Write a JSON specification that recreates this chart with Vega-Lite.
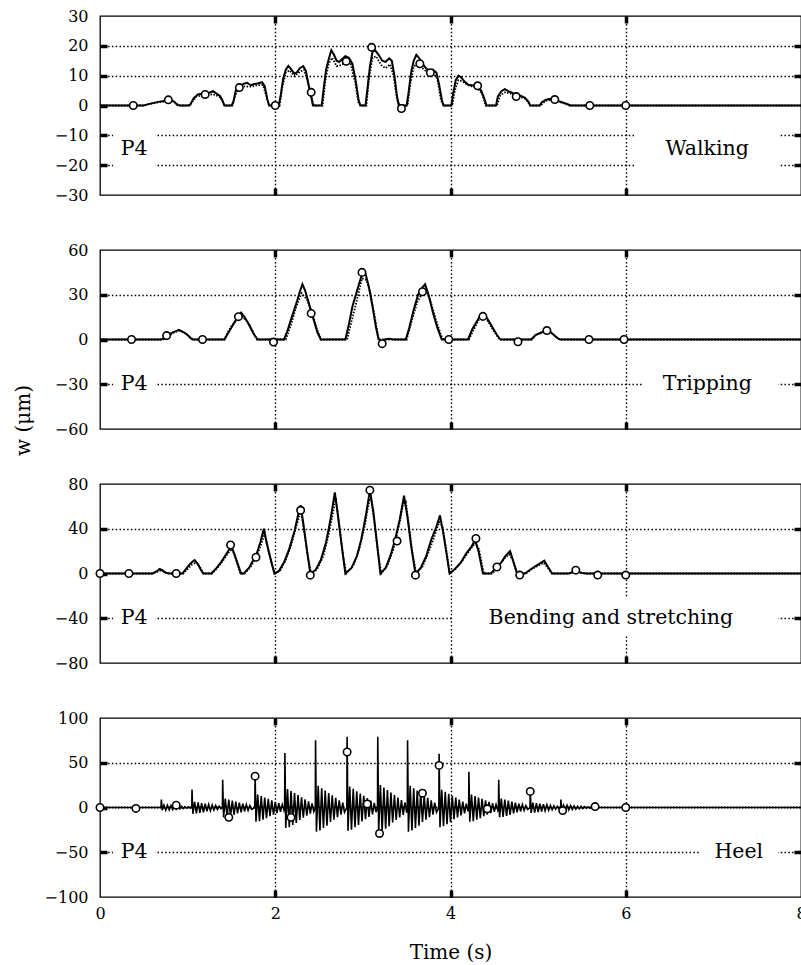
{
"$schema":"https://vega.github.io/schema/vega-lite/v6.json",
"padding":{"left":12,"top":7,"right":0,"bottom":0},
"autosize":{"type":"pad"},
"bounds":"flush",
"spacing":55,
"config":{
 "font":"DejaVu Serif",
 "view":{"stroke":"black","strokeWidth":1.3},
 "axis":{"domain":false,"labelFont":"DejaVu Serif","labelFontSize":16,"labelColor":"black","tickColor":"black","tickSize":-7,"tickWidth":3.5,"gridColor":"black","gridOpacity":1,"gridDash":[1.5,2.3],"gridWidth":1.4,"labelPadding":19,"titleFont":"DejaVu Serif","titleFontSize":19,"titleFontWeight":"normal","titleColor":"black","labelFlush":false}
},
"datasets":{
 "ann":[
  {"p":"walk","t":0.39,"w":-14.6,"label":"P4","x1":0.15,"x2":0.63,"y1":-25,"y2":-4},
  {"p":"walk","t":6.93,"w":-14.6,"label":"Walking","x1":6.1,"x2":7.76,"y1":-25,"y2":-4},
  {"p":"trip","t":0.39,"w":-29.5,"label":"P4","x1":0.15,"x2":0.63,"y1":-41,"y2":-17},
  {"p":"trip","t":6.93,"w":-29.5,"label":"Tripping","x1":6.19,"x2":7.74,"y1":-41,"y2":-17},
  {"p":"bend","t":0.39,"w":-40,"label":"P4","x1":0.15,"x2":0.63,"y1":-55,"y2":-24},
  {"p":"bend","t":5.83,"w":-40,"label":"Bending and stretching","x1":4.02,"x2":7.74,"y1":-55,"y2":-22},
  {"p":"heel","t":0.39,"w":-50,"label":"P4","x1":0.15,"x2":0.63,"y1":-64,"y2":-36},
  {"p":"heel","t":7.29,"w":-50,"label":"Heel","x1":6.85,"x2":7.74,"y1":-64,"y2":-36}
 ],
 "walk_m":[
  {"t":0,"w":0},{"t":0.5,"w":0},{"t":0.53,"w":0.3},{"t":0.6,"w":0.8},{"t":0.68,"w":1.3},{"t":0.75,"w":1.6},{"t":0.8,"w":2.0},{"t":0.85,"w":1.2},{"t":0.88,"w":0.2},{"t":0.92,"w":0},
  {"t":1.0,"w":0},{"t":1.03,"w":0.3},{"t":1.07,"w":2.5},{"t":1.12,"w":3.8},{"t":1.18,"w":3.9},{"t":1.24,"w":4.2},{"t":1.29,"w":4.8},{"t":1.33,"w":4.0},{"t":1.37,"w":3.2},{"t":1.4,"w":1.5},{"t":1.42,"w":0},
  {"t":1.5,"w":0},{"t":1.52,"w":1},{"t":1.55,"w":5},{"t":1.6,"w":6.5},{"t":1.64,"w":7.3},{"t":1.68,"w":7.6},{"t":1.72,"w":6.8},{"t":1.76,"w":7.2},{"t":1.8,"w":7.4},{"t":1.85,"w":7.8},{"t":1.88,"w":6.5},{"t":1.91,"w":2},{"t":1.93,"w":0},
  {"t":2.04,"w":0},{"t":2.06,"w":3},{"t":2.09,"w":9},{"t":2.12,"w":12},{"t":2.15,"w":13.3},{"t":2.18,"w":12.2},{"t":2.22,"w":10.6},{"t":2.25,"w":11.2},{"t":2.28,"w":12.5},{"t":2.32,"w":13.2},{"t":2.35,"w":11.5},{"t":2.38,"w":7},{"t":2.41,"w":3},{"t":2.43,"w":0},
  {"t":2.53,"w":0},{"t":2.55,"w":5},{"t":2.58,"w":12},{"t":2.61,"w":15.5},{"t":2.64,"w":18.5},{"t":2.67,"w":17},{"t":2.7,"w":15},{"t":2.73,"w":14.6},{"t":2.76,"w":15.5},{"t":2.8,"w":16.5},{"t":2.84,"w":16},{"t":2.88,"w":14},{"t":2.92,"w":8},{"t":2.95,"w":2},{"t":2.97,"w":0},
  {"t":3.03,"w":0},{"t":3.05,"w":5},{"t":3.08,"w":13},{"t":3.11,"w":18},{"t":3.14,"w":18.5},{"t":3.18,"w":17},{"t":3.22,"w":15},{"t":3.26,"w":14.6},{"t":3.3,"w":15.8},{"t":3.33,"w":15},{"t":3.36,"w":10},{"t":3.39,"w":3},{"t":3.41,"w":0},
  {"t":3.5,"w":0},{"t":3.52,"w":4},{"t":3.55,"w":11},{"t":3.58,"w":15},{"t":3.61,"w":17},{"t":3.64,"w":16},{"t":3.68,"w":14},{"t":3.72,"w":12.5},{"t":3.76,"w":11.5},{"t":3.8,"w":12},{"t":3.84,"w":11},{"t":3.87,"w":7},{"t":3.9,"w":2},{"t":3.92,"w":0},
  {"t":4.01,"w":0},{"t":4.03,"w":4},{"t":4.06,"w":8.5},{"t":4.09,"w":10},{"t":4.12,"w":9.5},{"t":4.16,"w":8},{"t":4.2,"w":7},{"t":4.24,"w":6.8},{"t":4.3,"w":6.5},{"t":4.35,"w":5},{"t":4.39,"w":2},{"t":4.41,"w":0},
  {"t":4.52,"w":0},{"t":4.54,"w":3},{"t":4.58,"w":4.8},{"t":4.62,"w":5.5},{"t":4.66,"w":4.8},{"t":4.7,"w":4.3},{"t":4.75,"w":3.5},{"t":4.8,"w":3.3},{"t":4.85,"w":2.6},{"t":4.89,"w":1.2},{"t":4.91,"w":0},
  {"t":5.02,"w":0},{"t":5.04,"w":1},{"t":5.08,"w":1.8},{"t":5.12,"w":2.2},{"t":5.17,"w":2.2},{"t":5.22,"w":1.6},{"t":5.28,"w":1.0},{"t":5.33,"w":0.5},{"t":5.37,"w":0},{"t":8,"w":0}
 ],
 "walk_p":[
  {"t":0,"w":0},{"t":0.5,"w":0},{"t":0.55,"w":0.4},{"t":0.65,"w":1.0},{"t":0.75,"w":1.4},{"t":0.82,"w":1.6},{"t":0.87,"w":0.8},{"t":0.9,"w":0},
  {"t":1.02,"w":0},{"t":1.06,"w":1.5},{"t":1.1,"w":3.0},{"t":1.18,"w":3.4},{"t":1.25,"w":3.8},{"t":1.32,"w":3.5},{"t":1.38,"w":2.6},{"t":1.42,"w":0},
  {"t":1.51,"w":0},{"t":1.54,"w":3},{"t":1.58,"w":5.6},{"t":1.65,"w":6.4},{"t":1.72,"w":6.3},{"t":1.8,"w":6.8},{"t":1.86,"w":6.8},{"t":1.9,"w":3},{"t":1.93,"w":0},
  {"t":2.05,"w":0},{"t":2.08,"w":6},{"t":2.12,"w":11},{"t":2.16,"w":11.8},{"t":2.22,"w":9.8},{"t":2.28,"w":11.3},{"t":2.33,"w":12},{"t":2.37,"w":8},{"t":2.41,"w":3.5},{"t":2.44,"w":0},
  {"t":2.54,"w":0},{"t":2.57,"w":8},{"t":2.61,"w":14},{"t":2.65,"w":16},{"t":2.7,"w":13.2},{"t":2.75,"w":13.5},{"t":2.81,"w":14.5},{"t":2.86,"w":14},{"t":2.91,"w":8},{"t":2.95,"w":1},{"t":2.98,"w":0},
  {"t":3.04,"w":0},{"t":3.07,"w":9},{"t":3.11,"w":16},{"t":3.15,"w":16.5},{"t":3.21,"w":13.5},{"t":3.26,"w":12.5},{"t":3.31,"w":13.8},{"t":3.35,"w":10},{"t":3.39,"w":2},{"t":3.42,"w":0},
  {"t":3.51,"w":0},{"t":3.54,"w":7},{"t":3.58,"w":13},{"t":3.63,"w":14.3},{"t":3.68,"w":12.5},{"t":3.74,"w":11},{"t":3.8,"w":11},{"t":3.85,"w":9},{"t":3.89,"w":2},{"t":3.92,"w":0},
  {"t":4.02,"w":0},{"t":4.05,"w":5},{"t":4.09,"w":8.5},{"t":4.14,"w":8},{"t":4.22,"w":6.5},{"t":4.3,"w":6.2},{"t":4.36,"w":4},{"t":4.4,"w":0},
  {"t":4.53,"w":0},{"t":4.57,"w":3.5},{"t":4.63,"w":4.5},{"t":4.7,"w":3.8},{"t":4.78,"w":3.0},{"t":4.86,"w":2.2},{"t":4.91,"w":0},
  {"t":5.03,"w":0},{"t":5.08,"w":1.5},{"t":5.15,"w":1.9},{"t":5.22,"w":1.4},{"t":5.3,"w":0.7},{"t":5.36,"w":0},{"t":8,"w":0}
 ],
 "walk_c":[
  {"t":0.38,"w":0},{"t":0.78,"w":1.9},{"t":1.2,"w":3.7},{"t":1.59,"w":6},{"t":2.0,"w":0},{"t":2.41,"w":4.4},{"t":2.81,"w":14.8},{"t":3.1,"w":19.5},{"t":3.44,"w":-1},{"t":3.65,"w":14},{"t":3.77,"w":11},{"t":4.31,"w":6.6},{"t":4.75,"w":3},{"t":5.19,"w":2},{"t":5.59,"w":0},{"t":6.0,"w":0}
 ],
 "trip_m":[
  {"t":0,"w":0},{"t":0.7,"w":0},{"t":0.74,"w":1.5},{"t":0.8,"w":4},{"t":0.86,"w":5.5},{"t":0.9,"w":6.5},{"t":0.95,"w":5},{"t":1.0,"w":3},{"t":1.04,"w":0.5},{"t":1.06,"w":0},
  {"t":1.42,"w":0},{"t":1.46,"w":4},{"t":1.52,"w":10},{"t":1.57,"w":15},{"t":1.61,"w":18},{"t":1.65,"w":15},{"t":1.7,"w":10},{"t":1.75,"w":4},{"t":1.8,"w":0},
  {"t":2.1,"w":0},{"t":2.14,"w":6},{"t":2.2,"w":17},{"t":2.25,"w":26},{"t":2.28,"w":32},{"t":2.31,"w":37},{"t":2.34,"w":33},{"t":2.38,"w":25},{"t":2.43,"w":15},{"t":2.48,"w":5},{"t":2.52,"w":0},
  {"t":2.8,"w":0},{"t":2.84,"w":10},{"t":2.88,"w":22},{"t":2.92,"w":30},{"t":2.96,"w":38},{"t":3.0,"w":45.5},{"t":3.03,"w":44},{"t":3.07,"w":35},{"t":3.11,"w":22},{"t":3.15,"w":8},{"t":3.18,"w":0},{"t":3.22,"w":-1.5},{"t":3.25,"w":0},{"t":3.3,"w":0.5},{"t":3.35,"w":0},
  {"t":3.49,"w":0},{"t":3.53,"w":8},{"t":3.58,"w":20},{"t":3.63,"w":30},{"t":3.68,"w":35},{"t":3.71,"w":37},{"t":3.75,"w":30},{"t":3.8,"w":18},{"t":3.85,"w":8},{"t":3.9,"w":0},
  {"t":4.2,"w":0},{"t":4.25,"w":7},{"t":4.3,"w":12},{"t":4.34,"w":16},{"t":4.37,"w":17.5},{"t":4.42,"w":14},{"t":4.48,"w":8},{"t":4.53,"w":3},{"t":4.57,"w":0},
  {"t":4.92,"w":0},{"t":4.97,"w":3},{"t":5.03,"w":4.5},{"t":5.08,"w":5.8},{"t":5.13,"w":5.5},{"t":5.18,"w":3},{"t":5.23,"w":0.5},{"t":5.25,"w":0},{"t":8,"w":0}
 ],
 "trip_p":[
  {"t":0,"w":0},{"t":0.72,"w":0},{"t":0.78,"w":2},{"t":0.84,"w":4.5},{"t":0.9,"w":6},{"t":0.96,"w":5},{"t":1.02,"w":2},{"t":1.06,"w":0},
  {"t":1.42,"w":0},{"t":1.45,"w":4},{"t":1.5,"w":9},{"t":1.56,"w":13},{"t":1.62,"w":15.5},{"t":1.68,"w":12},{"t":1.74,"w":6},{"t":1.79,"w":0},
  {"t":2.12,"w":0},{"t":2.18,"w":10},{"t":2.24,"w":22},{"t":2.3,"w":31},{"t":2.36,"w":27},{"t":2.42,"w":18},{"t":2.47,"w":8},{"t":2.52,"w":0},
  {"t":2.82,"w":0},{"t":2.87,"w":12},{"t":2.93,"w":26},{"t":2.99,"w":41},{"t":3.04,"w":40},{"t":3.09,"w":30},{"t":3.14,"w":14},{"t":3.18,"w":0},
  {"t":3.5,"w":0},{"t":3.56,"w":13},{"t":3.62,"w":25},{"t":3.68,"w":31},{"t":3.72,"w":33},{"t":3.77,"w":26},{"t":3.83,"w":14},{"t":3.89,"w":3},{"t":3.92,"w":0},
  {"t":4.21,"w":0},{"t":4.26,"w":6},{"t":4.32,"w":13},{"t":4.37,"w":15.5},{"t":4.43,"w":12},{"t":4.49,"w":6},{"t":4.56,"w":0},
  {"t":4.93,"w":0},{"t":4.98,"w":3.5},{"t":5.05,"w":4.5},{"t":5.1,"w":5.5},{"t":5.16,"w":4},{"t":5.22,"w":1},{"t":5.25,"w":0},{"t":8,"w":0}
 ],
 "trip_c":[
  {"t":0.36,"w":0},{"t":0.76,"w":2.6},{"t":1.17,"w":0},{"t":1.58,"w":15.3},{"t":1.98,"w":-1.7},{"t":2.41,"w":17.5},{"t":2.99,"w":45},{"t":3.22,"w":-2.8},{"t":3.68,"w":32},{"t":3.98,"w":0},{"t":4.37,"w":15.5},{"t":4.77,"w":-1.5},{"t":5.1,"w":6},{"t":5.58,"w":0},{"t":5.98,"w":0}
 ],
 "bend_m":[
  {"t":0,"w":0},{"t":0.6,"w":0},{"t":0.65,"w":2},{"t":0.68,"w":4},{"t":0.71,"w":3},{"t":0.74,"w":1},{"t":0.78,"w":0},
  {"t":0.94,"w":0},{"t":0.98,"w":4},{"t":1.02,"w":8},{"t":1.06,"w":11},{"t":1.08,"w":12},{"t":1.12,"w":8},{"t":1.16,"w":2},{"t":1.18,"w":0},
  {"t":1.27,"w":0},{"t":1.32,"w":4},{"t":1.38,"w":10},{"t":1.43,"w":16},{"t":1.47,"w":21},{"t":1.5,"w":24},{"t":1.53,"w":18},{"t":1.57,"w":9},{"t":1.61,"w":0},
  {"t":1.64,"w":0},{"t":1.7,"w":5},{"t":1.75,"w":12},{"t":1.79,"w":18},{"t":1.83,"w":28},{"t":1.87,"w":40},{"t":1.9,"w":28},{"t":1.94,"w":15},{"t":1.99,"w":0},
  {"t":2.04,"w":2},{"t":2.1,"w":10},{"t":2.16,"w":22},{"t":2.22,"w":38},{"t":2.26,"w":52},{"t":2.29,"w":61},{"t":2.32,"w":45},{"t":2.36,"w":22},{"t":2.4,"w":0},
  {"t":2.46,"w":3},{"t":2.52,"w":12},{"t":2.58,"w":28},{"t":2.63,"w":48},{"t":2.68,"w":72.5},{"t":2.71,"w":55},{"t":2.75,"w":30},{"t":2.8,"w":0},
  {"t":2.87,"w":5},{"t":2.93,"w":15},{"t":2.98,"w":30},{"t":3.03,"w":50},{"t":3.08,"w":74},{"t":3.12,"w":55},{"t":3.16,"w":28},{"t":3.2,"w":0},
  {"t":3.26,"w":5},{"t":3.31,"w":15},{"t":3.36,"w":28},{"t":3.42,"w":48},{"t":3.47,"w":69.5},{"t":3.51,"w":50},{"t":3.55,"w":25},{"t":3.6,"w":0},
  {"t":3.66,"w":5},{"t":3.72,"w":15},{"t":3.78,"w":30},{"t":3.84,"w":42},{"t":3.88,"w":52},{"t":3.92,"w":35},{"t":3.96,"w":15},{"t":3.99,"w":0},
  {"t":4.05,"w":4},{"t":4.12,"w":10},{"t":4.18,"w":18},{"t":4.24,"w":24},{"t":4.28,"w":30},{"t":4.32,"w":20},{"t":4.35,"w":8},{"t":4.37,"w":0},
  {"t":4.46,"w":0},{"t":4.52,"w":5},{"t":4.58,"w":10},{"t":4.63,"w":16},{"t":4.68,"w":20},{"t":4.72,"w":10},{"t":4.76,"w":0},
  {"t":4.85,"w":0},{"t":4.92,"w":4},{"t":4.98,"w":7},{"t":5.04,"w":10},{"t":5.07,"w":11.5},{"t":5.12,"w":5},{"t":5.16,"w":0},
  {"t":5.35,"w":0},{"t":5.43,"w":2},{"t":5.5,"w":0.5},{"t":5.55,"w":0},{"t":8,"w":0}
 ],
 "bend_p":[
  {"t":0,"w":0},{"t":0.6,"w":0},{"t":0.65,"w":1.5},{"t":0.7,"w":3},{"t":0.75,"w":1},{"t":0.8,"w":0},
  {"t":0.95,"w":0},{"t":1.0,"w":4},{"t":1.05,"w":8},{"t":1.1,"w":10},{"t":1.14,"w":6},{"t":1.18,"w":0},
  {"t":1.28,"w":0},{"t":1.34,"w":5},{"t":1.4,"w":11},{"t":1.46,"w":18},{"t":1.51,"w":22},{"t":1.55,"w":13},{"t":1.6,"w":0},
  {"t":1.65,"w":0},{"t":1.72,"w":6},{"t":1.78,"w":14},{"t":1.84,"w":26},{"t":1.88,"w":36},{"t":1.92,"w":22},{"t":1.97,"w":6},{"t":2.0,"w":0},
  {"t":2.06,"w":3},{"t":2.12,"w":12},{"t":2.18,"w":25},{"t":2.24,"w":42},{"t":2.29,"w":56},{"t":2.33,"w":38},{"t":2.37,"w":16},{"t":2.41,"w":0},
  {"t":2.48,"w":4},{"t":2.55,"w":16},{"t":2.61,"w":35},{"t":2.66,"w":55},{"t":2.69,"w":68},{"t":2.73,"w":44},{"t":2.77,"w":18},{"t":2.81,"w":0},
  {"t":2.89,"w":7},{"t":2.96,"w":22},{"t":3.02,"w":42},{"t":3.06,"w":60},{"t":3.09,"w":70},{"t":3.13,"w":46},{"t":3.17,"w":20},{"t":3.21,"w":0},
  {"t":3.28,"w":7},{"t":3.35,"w":22},{"t":3.41,"w":42},{"t":3.46,"w":62},{"t":3.49,"w":64},{"t":3.53,"w":40},{"t":3.57,"w":16},{"t":3.61,"w":0},
  {"t":3.68,"w":6},{"t":3.75,"w":19},{"t":3.82,"w":34},{"t":3.87,"w":46},{"t":3.91,"w":42},{"t":3.95,"w":22},{"t":3.99,"w":0},
  {"t":4.07,"w":5},{"t":4.15,"w":13},{"t":4.22,"w":21},{"t":4.28,"w":27},{"t":4.32,"w":23},{"t":4.35,"w":12},{"t":4.38,"w":0},
  {"t":4.48,"w":0},{"t":4.55,"w":7},{"t":4.62,"w":14},{"t":4.67,"w":17},{"t":4.71,"w":12},{"t":4.76,"w":0},
  {"t":4.86,"w":0},{"t":4.93,"w":4},{"t":5.0,"w":7},{"t":5.06,"w":9.5},{"t":5.1,"w":6},{"t":5.16,"w":0},
  {"t":5.35,"w":0},{"t":5.43,"w":2},{"t":5.5,"w":0.5},{"t":5.55,"w":0},{"t":8,"w":0}
 ],
 "bend_c":[
  {"t":0,"w":0},{"t":0.33,"w":0},{"t":0.87,"w":0},{"t":1.49,"w":25.5},{"t":1.78,"w":14.5},{"t":2.29,"w":56.5},{"t":2.4,"w":-1.5},{"t":3.08,"w":74.5},{"t":3.39,"w":29},{"t":3.6,"w":-1.5},{"t":4.29,"w":31.3},{"t":4.53,"w":5.8},{"t":4.79,"w":-1.4},{"t":5.43,"w":3},{"t":5.68,"w":-1.4},{"t":6.0,"w":-1.4}
 ],
 "heel_m":[
  {"t":0,"w":0},{"t":0.697,"w":0},
  {"t":0.7,"w":9},{"t":0.71,"w":-3},{"t":0.73,"w":2.7},{"t":0.75,"w":-2.9},{"t":0.77,"w":2.4},{"t":0.79,"w":-2.6},{"t":0.81,"w":2.1},{"t":0.83,"w":-2.3},{"t":0.85,"w":1.8},{"t":0.87,"w":-1.8},{"t":0.89,"w":1.5},{"t":0.91,"w":-1.5},{"t":0.93,"w":1.2},{"t":0.95,"w":-1.2},{"t":0.97,"w":0.9},{"t":0.99,"w":-0.9},{"t":1.01,"w":0.6},{"t":1.03,"w":-0.6},{"t":1.047,"w":0},
  {"t":1.05,"w":20},{"t":1.06,"w":-7},{"t":1.08,"w":6.3},{"t":1.1,"w":-6.7},{"t":1.12,"w":5.6},{"t":1.14,"w":-6},{"t":1.16,"w":4.9},{"t":1.18,"w":-5.3},{"t":1.2,"w":4.2},{"t":1.22,"w":-4.2},{"t":1.24,"w":3.5},{"t":1.26,"w":-3.5},{"t":1.28,"w":2.8},{"t":1.3,"w":-2.8},{"t":1.32,"w":2.1},{"t":1.34,"w":-2.1},{"t":1.36,"w":1.4},{"t":1.38,"w":-1.4},{"t":1.397,"w":0},
  {"t":1.4,"w":31},{"t":1.41,"w":-11},{"t":1.43,"w":9.9},{"t":1.45,"w":-10.5},{"t":1.47,"w":8.8},{"t":1.49,"w":-9.4},{"t":1.51,"w":7.7},{"t":1.53,"w":-8.3},{"t":1.55,"w":6.6},{"t":1.57,"w":-6.6},{"t":1.59,"w":5.5},{"t":1.61,"w":-5.5},{"t":1.63,"w":4.4},{"t":1.65,"w":-4.4},{"t":1.67,"w":3.3},{"t":1.69,"w":-3.3},{"t":1.71,"w":2.2},{"t":1.73,"w":-2.2},{"t":1.767,"w":0},
  {"t":1.77,"w":38},{"t":1.78,"w":-16},{"t":1.8,"w":14.4},{"t":1.82,"w":-15.2},{"t":1.84,"w":12.8},{"t":1.86,"w":-13.6},{"t":1.88,"w":11.2},{"t":1.9,"w":-12},{"t":1.92,"w":9.6},{"t":1.94,"w":-9.6},{"t":1.96,"w":8},{"t":1.98,"w":-8},{"t":2.0,"w":6.4},{"t":2.02,"w":-6.4},{"t":2.04,"w":4.8},{"t":2.06,"w":-4.8},{"t":2.08,"w":3.2},{"t":2.1,"w":-3.2},{"t":2.107,"w":0},
  {"t":2.11,"w":61},{"t":2.12,"w":-23},{"t":2.14,"w":20.7},{"t":2.16,"w":-21.9},{"t":2.18,"w":18.4},{"t":2.2,"w":-19.6},{"t":2.22,"w":16.1},{"t":2.24,"w":-17.3},{"t":2.26,"w":13.8},{"t":2.28,"w":-13.8},{"t":2.3,"w":11.5},{"t":2.32,"w":-11.5},{"t":2.34,"w":9.2},{"t":2.36,"w":-9.2},{"t":2.38,"w":6.9},{"t":2.4,"w":-6.9},{"t":2.42,"w":4.6},{"t":2.44,"w":-4.6},{"t":2.457,"w":0},
  {"t":2.46,"w":75},{"t":2.47,"w":-27},{"t":2.49,"w":24.3},{"t":2.51,"w":-25.7},{"t":2.53,"w":21.6},{"t":2.55,"w":-23},{"t":2.57,"w":18.9},{"t":2.59,"w":-20.3},{"t":2.61,"w":16.2},{"t":2.63,"w":-16.2},{"t":2.65,"w":13.5},{"t":2.67,"w":-13.5},{"t":2.69,"w":10.8},{"t":2.71,"w":-10.8},{"t":2.73,"w":8.1},{"t":2.75,"w":-8.1},{"t":2.77,"w":5.4},{"t":2.79,"w":-5.4},{"t":2.817,"w":0},
  {"t":2.82,"w":79},{"t":2.83,"w":-26},{"t":2.85,"w":23.4},{"t":2.87,"w":-24.7},{"t":2.89,"w":20.8},{"t":2.91,"w":-22.1},{"t":2.93,"w":18.2},{"t":2.95,"w":-19.5},{"t":2.97,"w":15.6},{"t":2.99,"w":-15.6},{"t":3.01,"w":13},{"t":3.03,"w":-13},{"t":3.05,"w":10.4},{"t":3.07,"w":-10.4},{"t":3.09,"w":7.8},{"t":3.11,"w":-7.8},{"t":3.13,"w":5.2},{"t":3.15,"w":-5.2},{"t":3.167,"w":0},
  {"t":3.17,"w":79},{"t":3.18,"w":-28},{"t":3.2,"w":25.2},{"t":3.22,"w":-26.6},{"t":3.24,"w":22.4},{"t":3.26,"w":-23.8},{"t":3.28,"w":19.6},{"t":3.3,"w":-21},{"t":3.32,"w":16.8},{"t":3.34,"w":-16.8},{"t":3.36,"w":14},{"t":3.38,"w":-14},{"t":3.4,"w":11.2},{"t":3.42,"w":-11.2},{"t":3.44,"w":8.4},{"t":3.46,"w":-8.4},{"t":3.48,"w":5.6},{"t":3.5,"w":-5.6},{"t":3.507,"w":0},
  {"t":3.51,"w":75},{"t":3.52,"w":-27},{"t":3.54,"w":24.3},{"t":3.56,"w":-25.7},{"t":3.58,"w":21.6},{"t":3.6,"w":-23},{"t":3.62,"w":18.9},{"t":3.64,"w":-20.3},{"t":3.66,"w":16.2},{"t":3.68,"w":-16.2},{"t":3.7,"w":13.5},{"t":3.72,"w":-13.5},{"t":3.74,"w":10.8},{"t":3.76,"w":-10.8},{"t":3.78,"w":8.1},{"t":3.8,"w":-8.1},{"t":3.82,"w":5.4},{"t":3.84,"w":-5.4},{"t":3.867,"w":0},
  {"t":3.87,"w":60},{"t":3.88,"w":-22},{"t":3.9,"w":19.8},{"t":3.92,"w":-20.9},{"t":3.94,"w":17.6},{"t":3.96,"w":-18.7},{"t":3.98,"w":15.4},{"t":4.0,"w":-16.5},{"t":4.02,"w":13.2},{"t":4.04,"w":-13.2},{"t":4.06,"w":11},{"t":4.08,"w":-11},{"t":4.1,"w":8.8},{"t":4.12,"w":-8.8},{"t":4.14,"w":6.6},{"t":4.16,"w":-6.6},{"t":4.18,"w":4.4},{"t":4.2,"w":-4.4},{"t":4.207,"w":0},
  {"t":4.21,"w":40},{"t":4.22,"w":-16},{"t":4.24,"w":14.4},{"t":4.26,"w":-15.2},{"t":4.28,"w":12.8},{"t":4.3,"w":-13.6},{"t":4.32,"w":11.2},{"t":4.34,"w":-12},{"t":4.36,"w":9.6},{"t":4.38,"w":-9.6},{"t":4.4,"w":8},{"t":4.42,"w":-8},{"t":4.44,"w":6.4},{"t":4.46,"w":-6.4},{"t":4.48,"w":4.8},{"t":4.5,"w":-4.8},{"t":4.52,"w":3.2},{"t":4.54,"w":-3.2},{"t":4.547,"w":0},
  {"t":4.55,"w":31},{"t":4.56,"w":-11},{"t":4.58,"w":9.9},{"t":4.6,"w":-10.5},{"t":4.62,"w":8.8},{"t":4.64,"w":-9.4},{"t":4.66,"w":7.7},{"t":4.68,"w":-8.3},{"t":4.7,"w":6.6},{"t":4.72,"w":-6.6},{"t":4.74,"w":5.5},{"t":4.76,"w":-5.5},{"t":4.78,"w":4.4},{"t":4.8,"w":-4.4},{"t":4.82,"w":3.3},{"t":4.84,"w":-3.3},{"t":4.86,"w":2.2},{"t":4.88,"w":-2.2},{"t":4.907,"w":0},
  {"t":4.91,"w":20},{"t":4.92,"w":-6},{"t":4.94,"w":5.4},{"t":4.96,"w":-5.7},{"t":4.98,"w":4.8},{"t":5.0,"w":-5.1},{"t":5.02,"w":4.2},{"t":5.04,"w":-4.5},{"t":5.06,"w":3.6},{"t":5.08,"w":-3.6},{"t":5.1,"w":3},{"t":5.12,"w":-3},{"t":5.14,"w":2.4},{"t":5.16,"w":-2.4},{"t":5.18,"w":1.8},{"t":5.2,"w":-1.8},{"t":5.22,"w":1.2},{"t":5.24,"w":-1.2},{"t":5.257,"w":0},
  {"t":5.26,"w":9},{"t":5.27,"w":-3},{"t":5.29,"w":2.7},{"t":5.31,"w":-2.9},{"t":5.33,"w":2.4},{"t":5.35,"w":-2.6},{"t":5.37,"w":2.1},{"t":5.39,"w":-2.3},{"t":5.41,"w":1.8},{"t":5.43,"w":-1.8},{"t":5.45,"w":1.5},{"t":5.47,"w":-1.5},{"t":5.49,"w":1.2},{"t":5.51,"w":-1.2},{"t":5.53,"w":0.9},{"t":5.55,"w":-0.9},{"t":5.57,"w":0.6},{"t":5.59,"w":-0.6},{"t":5.62,"w":0},{"t":8,"w":0}
 ],
 "heel_p":[{"t":0,"w":0},{"t":8,"w":0}],
 "heel_c":[
  {"t":0,"w":0},{"t":0.41,"w":-1},{"t":0.87,"w":2.6},{"t":1.47,"w":-11},{"t":1.77,"w":35},{"t":2.18,"w":-11},{"t":2.82,"w":62},{"t":3.05,"w":4},{"t":3.19,"w":-29},{"t":3.68,"w":16},{"t":3.87,"w":47},{"t":4.42,"w":-1.5},{"t":4.91,"w":18},{"t":5.28,"w":-3.4},{"t":5.65,"w":1},{"t":6.0,"w":0}
 ]
},
"vconcat":[
 {"width":701,"height":179,
  "encoding":{"x":{"field":"t","type":"quantitative","scale":{"domain":[0,8],"nice":false,"zero":false},"axis":null},"y":{"field":"w","type":"quantitative","scale":{"domain":[-30,30],"nice":false,"zero":false},"axis":null}},
  "layer":[
   {"data":{"name":"ann"},"transform":[{"filter":"datum.p=='walk'"}],"mark":{"type":"rect","fill":"white"},
    "encoding":{"x":{"field":"x1","type":"quantitative","scale":{"domain":[0,8],"nice":false,"zero":false},"axis":{"orient":"bottom","values":[0,2,4,6,8],"labels":false,"title":null,"grid":true,"tickOpacity":{"condition":{"test":"datum.value==0||datum.value==8","value":0},"value":1},"gridOpacity":{"condition":{"test":"datum.value==0||datum.value==8","value":0},"value":1}}},"x2":{"field":"x2"},
     "y":{"field":"y1","type":"quantitative","scale":{"domain":[-30,30],"nice":false,"zero":false},"axis":{"orient":"left","values":[-30,-20,-10,0,10,20,30],"title":null,"grid":true,"tickOpacity":{"condition":{"test":"abs(datum.value)==30","value":0},"value":1},"gridOpacity":{"condition":{"test":"datum.value==0||abs(datum.value)==30","value":0},"value":1}}},"y2":{"field":"y2"}}},
   {"data":{"name":"walk_p"},"mark":{"type":"line","color":"black","strokeWidth":1.8,"strokeDash":[1.5,1.5]}},
   {"data":{"name":"walk_m"},"mark":{"type":"line","color":"black","strokeWidth":2}},
   {"data":{"name":"walk_c"},"mark":{"type":"point","shape":"circle","filled":true,"fill":"white","stroke":"black","strokeWidth":1.6,"size":55,"opacity":1},
    "encoding":{"x":{"field":"t","type":"quantitative","scale":{"domain":[0,8],"nice":false,"zero":false},"axis":{"orient":"top","values":[2,4,6],"labels":false,"title":null,"grid":false}},
     "y":{"field":"w","type":"quantitative","scale":{"domain":[-30,30],"nice":false,"zero":false},"axis":{"orient":"right","values":[-20,-10,10,20],"labels":false,"title":null,"grid":false}}}},
   {"data":{"name":"ann"},"transform":[{"filter":"datum.p=='walk'"}],"mark":{"type":"text","font":"DejaVu Serif","fontSize":20.5,"color":"black","align":"center","baseline":"middle"},"encoding":{"text":{"field":"label"}}}
  ],
  "resolve":{"axis":{"x":"independent","y":"independent"}}
 },
 {"width":701,"height":179,
  "encoding":{"x":{"field":"t","type":"quantitative","scale":{"domain":[0,8],"nice":false,"zero":false},"axis":null},"y":{"field":"w","type":"quantitative","scale":{"domain":[-60,60],"nice":false,"zero":false},"axis":null}},
  "layer":[
   {"data":{"name":"ann"},"transform":[{"filter":"datum.p=='trip'"}],"mark":{"type":"rect","fill":"white"},
    "encoding":{"x":{"field":"x1","type":"quantitative","scale":{"domain":[0,8],"nice":false,"zero":false},"axis":{"orient":"bottom","values":[0,2,4,6,8],"labels":false,"title":null,"grid":true,"tickOpacity":{"condition":{"test":"datum.value==0||datum.value==8","value":0},"value":1},"gridOpacity":{"condition":{"test":"datum.value==0||datum.value==8","value":0},"value":1}}},"x2":{"field":"x2"},
     "y":{"field":"y1","type":"quantitative","scale":{"domain":[-60,60],"nice":false,"zero":false},"axis":{"orient":"left","values":[-60,-30,0,30,60],"title":"w (μm)","titleFontSize":20,"titleX":-77,"titleY":170,"titleAngle":270,"titleAlign":"center","titleBaseline":"middle","grid":true,"tickOpacity":{"condition":{"test":"abs(datum.value)==60","value":0},"value":1},"gridOpacity":{"condition":{"test":"datum.value==0||abs(datum.value)==60","value":0},"value":1}}},"y2":{"field":"y2"}}},
   {"data":{"name":"trip_p"},"mark":{"type":"line","color":"black","strokeWidth":1.8,"strokeDash":[1.5,1.5]}},
   {"data":{"name":"trip_m"},"mark":{"type":"line","color":"black","strokeWidth":2}},
   {"data":{"name":"trip_c"},"mark":{"type":"point","shape":"circle","filled":true,"fill":"white","stroke":"black","strokeWidth":1.6,"size":55,"opacity":1},
    "encoding":{"x":{"field":"t","type":"quantitative","scale":{"domain":[0,8],"nice":false,"zero":false},"axis":{"orient":"top","values":[2,4,6],"labels":false,"title":null,"grid":false}},
     "y":{"field":"w","type":"quantitative","scale":{"domain":[-60,60],"nice":false,"zero":false},"axis":{"orient":"right","values":[-30,30],"labels":false,"title":null,"grid":false}}}},
   {"data":{"name":"ann"},"transform":[{"filter":"datum.p=='trip'"}],"mark":{"type":"text","font":"DejaVu Serif","fontSize":20.5,"color":"black","align":"center","baseline":"middle"},"encoding":{"text":{"field":"label"}}}
  ],
  "resolve":{"axis":{"x":"independent","y":"independent"}}
 },
 {"width":701,"height":179,
  "encoding":{"x":{"field":"t","type":"quantitative","scale":{"domain":[0,8],"nice":false,"zero":false},"axis":null},"y":{"field":"w","type":"quantitative","scale":{"domain":[-80,80],"nice":false,"zero":false},"axis":null}},
  "layer":[
   {"data":{"name":"ann"},"transform":[{"filter":"datum.p=='bend'"}],"mark":{"type":"rect","fill":"white"},
    "encoding":{"x":{"field":"x1","type":"quantitative","scale":{"domain":[0,8],"nice":false,"zero":false},"axis":{"orient":"bottom","values":[0,2,4,6,8],"labels":false,"title":null,"grid":true,"tickOpacity":{"condition":{"test":"datum.value==0||datum.value==8","value":0},"value":1},"gridOpacity":{"condition":{"test":"datum.value==0||datum.value==8","value":0},"value":1}}},"x2":{"field":"x2"},
     "y":{"field":"y1","type":"quantitative","scale":{"domain":[-80,80],"nice":false,"zero":false},"axis":{"orient":"left","values":[-80,-40,0,40,80],"title":null,"grid":true,"tickOpacity":{"condition":{"test":"abs(datum.value)==80","value":0},"value":1},"gridOpacity":{"condition":{"test":"datum.value==0||abs(datum.value)==80","value":0},"value":1}}},"y2":{"field":"y2"}}},
   {"data":{"name":"bend_p"},"mark":{"type":"line","color":"black","strokeWidth":1.8,"strokeDash":[1.5,1.5]}},
   {"data":{"name":"bend_m"},"mark":{"type":"line","color":"black","strokeWidth":2}},
   {"data":{"name":"bend_c"},"mark":{"type":"point","shape":"circle","filled":true,"fill":"white","stroke":"black","strokeWidth":1.6,"size":55,"opacity":1},
    "encoding":{"x":{"field":"t","type":"quantitative","scale":{"domain":[0,8],"nice":false,"zero":false},"axis":{"orient":"top","values":[2,4,6],"labels":false,"title":null,"grid":false}},
     "y":{"field":"w","type":"quantitative","scale":{"domain":[-80,80],"nice":false,"zero":false},"axis":{"orient":"right","values":[-40,40],"labels":false,"title":null,"grid":false}}}},
   {"data":{"name":"ann"},"transform":[{"filter":"datum.p=='bend'"}],"mark":{"type":"text","font":"DejaVu Serif","fontSize":20.5,"color":"black","align":"center","baseline":"middle"},"encoding":{"text":{"field":"label"}}}
  ],
  "resolve":{"axis":{"x":"independent","y":"independent"}}
 },
 {"width":701,"height":179,
  "encoding":{"x":{"field":"t","type":"quantitative","scale":{"domain":[0,8],"nice":false,"zero":false},"axis":null},"y":{"field":"w","type":"quantitative","scale":{"domain":[-100,100],"nice":false,"zero":false},"axis":null}},
  "layer":[
   {"data":{"name":"ann"},"transform":[{"filter":"datum.p=='heel'"}],"mark":{"type":"rect","fill":"white"},
    "encoding":{"x":{"field":"x1","type":"quantitative","scale":{"domain":[0,8],"nice":false,"zero":false},"axis":{"orient":"bottom","values":[0,2,4,6,8],"labels":true,"labelPadding":15,"title":"Time (s)","titleFontSize":20,"titlePadding":21,"grid":true,"tickOpacity":{"condition":{"test":"datum.value==0||datum.value==8","value":0},"value":1},"gridOpacity":{"condition":{"test":"datum.value==0||datum.value==8","value":0},"value":1}}},"x2":{"field":"x2"},
     "y":{"field":"y1","type":"quantitative","scale":{"domain":[-100,100],"nice":false,"zero":false},"axis":{"orient":"left","values":[-100,-50,0,50,100],"title":null,"grid":true,"tickOpacity":{"condition":{"test":"abs(datum.value)==100","value":0},"value":1},"gridOpacity":{"condition":{"test":"datum.value==0||abs(datum.value)==100","value":0},"value":1}}},"y2":{"field":"y2"}}},
   {"data":{"name":"heel_p"},"mark":{"type":"line","color":"black","strokeWidth":2.2,"strokeDash":[1.5,1.5]}},
   {"data":{"name":"heel_m"},"mark":{"type":"line","color":"black","strokeWidth":1.6}},
   {"data":{"name":"heel_c"},"mark":{"type":"point","shape":"circle","filled":true,"fill":"white","stroke":"black","strokeWidth":1.6,"size":55,"opacity":1},
    "encoding":{"x":{"field":"t","type":"quantitative","scale":{"domain":[0,8],"nice":false,"zero":false},"axis":{"orient":"top","values":[2,4,6],"labels":false,"title":null,"grid":false}},
     "y":{"field":"w","type":"quantitative","scale":{"domain":[-100,100],"nice":false,"zero":false},"axis":{"orient":"right","values":[-50,50],"labels":false,"title":null,"grid":false}}}},
   {"data":{"name":"ann"},"transform":[{"filter":"datum.p=='heel'"}],"mark":{"type":"text","font":"DejaVu Serif","fontSize":20.5,"color":"black","align":"center","baseline":"middle"},"encoding":{"text":{"field":"label"}}}
  ],
  "resolve":{"axis":{"x":"independent","y":"independent"}}
 }
]
}
